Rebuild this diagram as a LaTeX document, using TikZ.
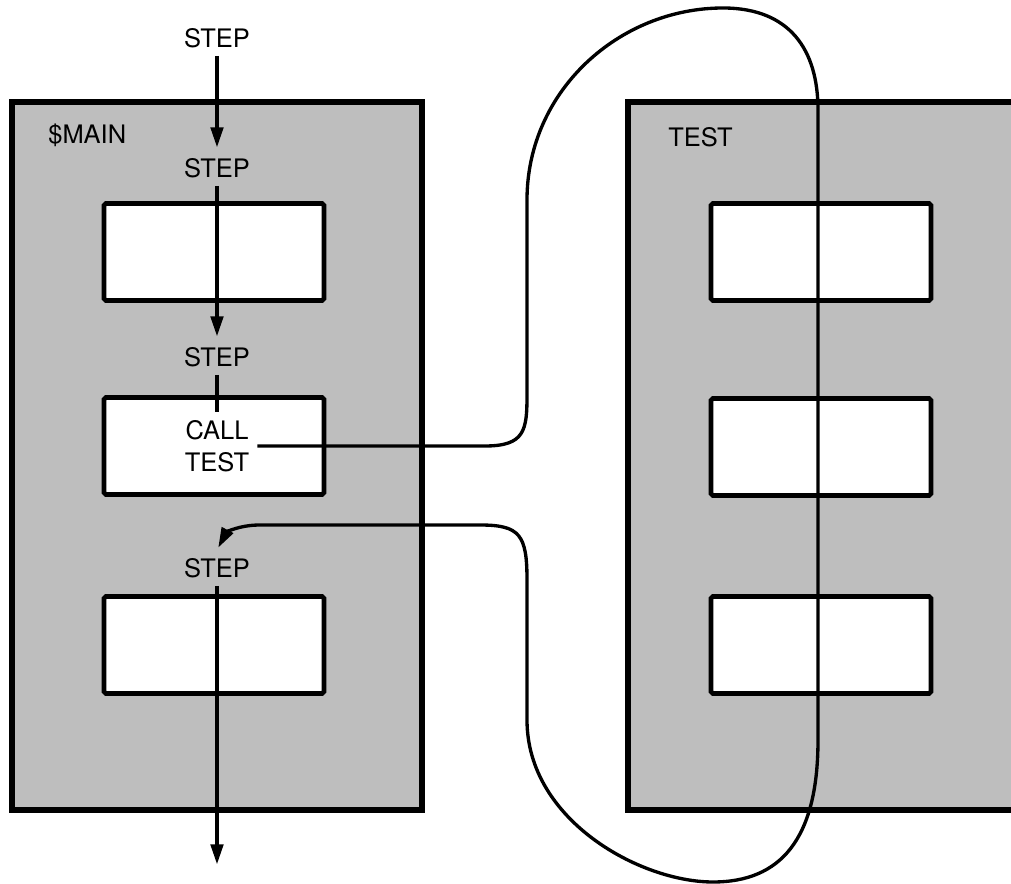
\documentclass[tikz,border=0pt]{standalone}
\usepackage{fontspec}
\setmainfont{TeX Gyre Heros}
\usetikzlibrary{arrows.meta}
\definecolor{panelgray}{RGB}{190,190,190}

\begin{document}
\begin{tikzpicture}[x=0.02cm, y=-0.02cm,
    every node/.style={font=\fontsize{14.5}{18.2}\selectfont},
    panel/.style={draw, line width=3pt, fill=panelgray, minimum height=14.16cm},
    blockbox/.style={draw, line width=2.6pt, fill=white, rounded corners=1pt,
                     minimum width=4.4cm, minimum height=1.94cm},
    steplabel/.style={inner sep=4.5pt},
    flow/.style={line width=1.9pt},
    flowarrow/.style={-{Triangle[length=0.4cm, width=0.25cm]}, shorten >=1.5pt}]
  \useasboundingbox (0,0) rectangle (1011,884);
  \clip (0,0) rectangle (1011,884);

  % left: $MAIN
  \node[panel, minimum width=8.2cm] (main) at (217,456) {};
  \node[anchor=west, inner sep=0pt] (mainlabel) at (48,135) {\$MAIN};
  \node[blockbox] (m1) at (214,252) {};
  \node[blockbox] (m2) at (214,446) {};
  \node[blockbox] (m3) at (214,645) {};
  \node[steplabel] (s0) at (217,38) {STEP};
  \node[steplabel] (s1) at (217,168) {STEP};
  \node[steplabel] (s2) at (217,357) {STEP};
  \node[align=center, inner sep=4.5pt] (call) at (217,446) {CALL\\TEST};
  \node[steplabel] (s3) at (217,568) {STEP};
  \coordinate (exit) at (217,867);

  % right: TEST
  \node[panel, minimum width=8.64cm] (test) at (844,456) {};
  \node[anchor=west, inner sep=0pt] (testlabel) at (668,137) {TEST};
  \node[blockbox] (t1) at (821,252) {};
  \node[blockbox] (t2) at (821,447) {};
  \node[blockbox] (t3) at (821,645) {};

  % flow through $MAIN
  \draw[flow, flowarrow] (s0) -- (s1);
  \draw[flow, flowarrow] (s1) -- (s2);
  \draw[flow] (s2) -- (call);
  \draw[flow, flowarrow] (s3) -- (exit);

  % call and return loop
  \draw[flow, flowarrow] (call.east) -- (485,446) .. controls (525,446) and (527,430) .. (527,395)
    -- (527,200) .. controls (527,90) and (620,8) .. (723,8)
    .. controls (790,8) and (818,50) .. (818,110) -- (818,740)
    .. controls (818,840) and (780,882) .. (713,882)
    .. controls (640,882) and (527,820) .. (527,720) -- (527,580)
    .. controls (527,535) and (520,525) .. (480,525) -- (260,525)
    .. controls (238,525) and (226,533) .. (s3.north);
\end{tikzpicture}
\end{document}
